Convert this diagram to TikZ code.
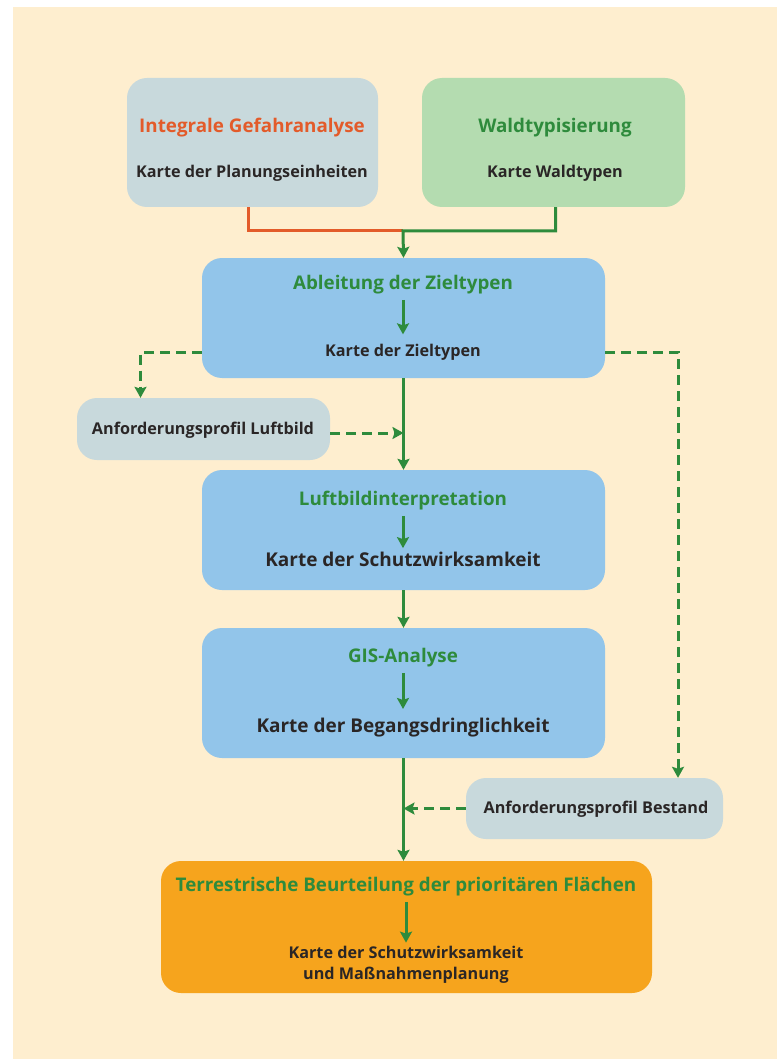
\documentclass[tikz,border=0pt]{standalone}
\usepackage{fontspec}
\setmainfont{Open Sans}
\usetikzlibrary{arrows.meta}
\definecolor{bgcream}{HTML}{FEEECF}
\definecolor{greybox}{HTML}{C8D9DC}
\definecolor{greenbox}{HTML}{B4DCB0}
\definecolor{bluebox}{HTML}{92C5EA}
\definecolor{orangebox}{HTML}{F6A41D}
\definecolor{flowgreen}{HTML}{2E8B3C}
\definecolor{gefahr}{HTML}{E35B2A}
\definecolor{inkdark}{HTML}{2A2626}
\tikzset{
  box/.style={rounded corners=20pt, inner sep=0pt},
  title/.style={font=\bfseries\fontsize{18.8}{22}\selectfont, text=flowgreen},
  mapname/.style={font=\bfseries\fontsize{16.2}{21.5}\selectfont, text=inkdark, align=center},
  bigmap/.style={font=\bfseries\fontsize{19}{22}\selectfont, text=inkdark},
  flow/.style={line width=3pt, flowgreen, -{Stealth[length=11pt,width=12pt,inset=2pt]}},
  req/.style={flow, dash pattern=on 10pt off 6pt},
}
\begin{document}
\begin{tikzpicture}[x=1pt,y=-1pt]
  \useasboundingbox (0,0) rectangle (777,1059);
  \fill[bgcream] (13,7) rectangle (777,1059);
  \node[box, fill=greybox, minimum width=251pt, minimum height=129pt] (gef) at (252.5,142.5) {};
  \node[box, fill=greenbox, minimum width=263pt, minimum height=129pt] (wald) at (553.5,142.5) {};
  \node[box, fill=bluebox, minimum width=403pt, minimum height=120pt] (ziel) at (403.5,318) {};
  \node[box, fill=greybox, minimum width=253pt, minimum height=62pt] (luft) at (203.5,429) {};
  \node[box, fill=bluebox, minimum width=403pt, minimum height=120pt] (lbi) at (403.5,530) {};
  \node[box, fill=bluebox, minimum width=403pt, minimum height=130pt] (gis) at (403.5,693) {};
  \node[box, fill=greybox, minimum width=257pt, minimum height=61pt] (best) at (594.5,808.5) {};
  \node[box, fill=orangebox, minimum width=491pt, minimum height=132pt] (terr) at (406.5,927) {};
  % texts
  \node[title, text=gefahr] (gef-t) at (252,128) {Integrale Gefahranalyse};
  \node[mapname] (gef-m) at (252,173) {Karte der Planungseinheiten};
  \node[title] (wald-t) at (555,128) {Waldtypisierung};
  \node[mapname] (wald-m) at (555,173) {Karte Waldtypen};
  \node[title] (ziel-t) at (403,285) {Ableitung der Zieltypen};
  \node[mapname] (ziel-m) at (403,352) {Karte der Zieltypen};
  \node[mapname] (luft-m) at (203,430) {Anforderungsprofil Luftbild};
  \node[title] (lbi-t) at (403,501) {Luftbildinterpretation};
  \node[bigmap] (lbi-m) at (403,559) {Karte der Schutzwirksamkeit};
  \node[title] (gis-t) at (403,658) {GIS-Analyse};
  \node[bigmap] (gis-m) at (403,728) {Karte der Begangsdringlichkeit};
  \node[mapname] (best-m) at (596,809) {Anforderungsprofil Bestand};
  \node[title] (terr-t) at (406,887) {Terrestrische Beurteilung der prioritären Flächen};
  \node[mapname] (terr-m) at (406,965) {Karte der Schutzwirksamkeit\\und Maßnahmenplanung};
  \coordinate (join) at (403,231);
  \begin{scope}
    \draw[line width=3pt, gefahr] ([xshift=-4pt]gef.south) |- (join);
    \draw[flow] ([xshift=2pt]wald.south) |- (join) -- (ziel.north);
    \draw[flow, shorten <=2pt, shorten >=6pt] (ziel-t) -- (ziel-m);
    \draw[flow, shorten <=2pt, shorten >=0pt] (lbi-t) -- (lbi-m);
    \draw[flow, shorten <=2pt, shorten >=6pt] (gis-t) -- (gis-m);
    \draw[flow, shorten <=2pt, shorten >=0pt] (terr-t) -- (terr-m);
    \draw[req] (ziel-m -| ziel.west) -| ([xshift=-63pt]luft.north);
    \draw[req] (ziel-m -| ziel.east) -| ([xshift=83.5pt]best.north);
    \draw[flow] (ziel.south) -- (lbi.north);
    \draw[req] ([yshift=-4pt]luft.east) -- ([yshift=-4pt]luft.east -| ziel.south);
    \draw[flow] (lbi.south) -- (gis.north);
    \draw[flow] (gis.south) -- (gis.south |- terr.north);
    \draw[req] (best.west) -- (best.west -| gis.south);
  \end{scope}
\end{tikzpicture}
\end{document}
